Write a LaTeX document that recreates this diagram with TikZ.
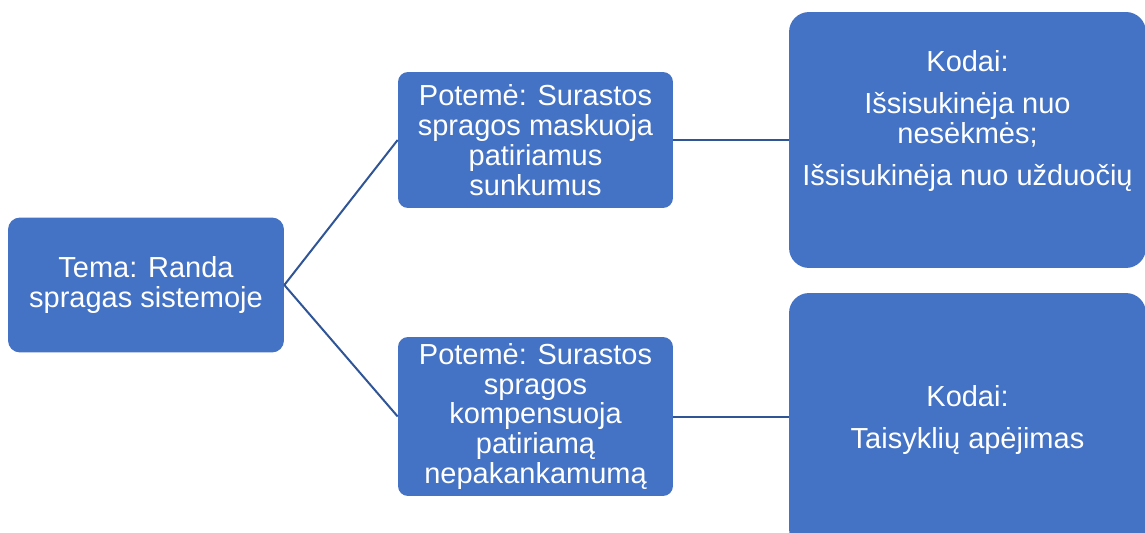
\documentclass[tikz,border=0pt]{standalone}
\usepackage{fontspec}
\setmainfont{Liberation Sans}
\usepackage{tikz}

\definecolor{boxblue}{HTML}{4472C4}
\definecolor{linkblue}{HTML}{2F5597}

\begin{document}
\begin{tikzpicture}[x=0.02cm, y=-0.02cm,
    box/.style={fill=boxblue, text=white, align=center, inner sep=0pt,
        font=\fontsize{16.5pt}{17pt}\selectfont},
    temabox/.style={box, rounded corners=0.24cm, minimum width=5.52cm, minimum height=2.7cm},
    subbox/.style={box, rounded corners=0.2cm, minimum width=5.5cm},
    kodbox/.style={box, rounded corners=0.4cm, minimum width=7.14cm, minimum height=5.12cm},
    kodtxt/.style={text=white, align=center, inner sep=0pt,
        font=\fontsize{16.5pt}{17pt}\selectfont},
    link/.style={draw=linkblue, line width=0.04cm}]
    % Keep the page at the reference size
    \useasboundingbox (0,0) rectangle (1145,533);
    \clip (0,0) rectangle (1145,533);

    % Theme
    \node[temabox] (tema) at (146,285) {Tema: Randa\\spragas sistemoje};

    % Sub-themes
    \node[subbox, minimum height=2.72cm] (potA) at (535.5,140)
        {Potemė: Surastos\\spragos maskuoja\\patiriamus\\sunkumus};
    \node[subbox, minimum height=3.18cm] (potB) at (535.5,416.5)
        {Potemė: Surastos\\spragos\\kompensuoja\\patiriamą\\nepakankamumą};

    % Codes
    \node[kodbox] (kodA) at (967.5,140) {};
    \node[kodtxt] (kodAtxt) at (967.5,121)
        {Kodai:\\[6.8pt]Išsisukinėja nuo\\nesėkmės;\\[6.8pt]Išsisukinėja nuo užduočių};
    \node[kodbox] (kodB) at (967.5,421) {};
    \node[kodtxt] (kodBtxt) at (967.5,420) {Kodai:\\[6.8pt]Taisyklių apėjimas};

    % Connectors
    \draw[link] (tema.east) -- (potA.west);
    \draw[link] (tema.east) -- (potB.west);
    \draw[link] (potA.east) -- (potA.east -| kodA.west);
    \draw[link] (potB.east) -- (potB.east -| kodB.west);
\end{tikzpicture}
\end{document}
